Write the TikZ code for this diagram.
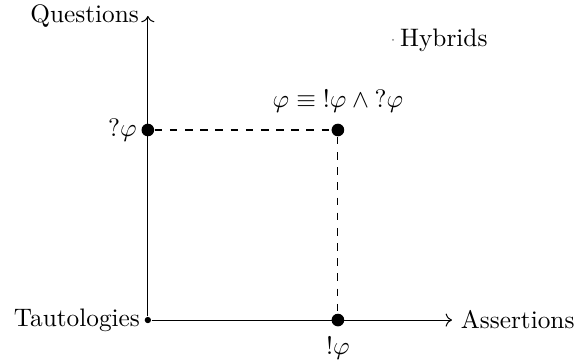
\documentclass[tikz,border=0pt]{standalone}
\usepackage{amsmath,amssymb}
\usetikzlibrary{positioning,arrows.meta}

\begin{document}
\begin{tikzpicture}[x=0.528cm,y=0.528cm,node distance=0cm]
\useasboundingbox (-3.89,-1.03) rectangle (11.29,8.42);
\node[circle,fill,inner sep=0pt,minimum size=2.5pt] (taut) at (0,0) {};
\coordinate (qtip) at (0,8);
\coordinate (atip) at (8,0);
\node[circle,fill,inner sep=0pt,minimum size=5pt] (qdot) at (0,5) {};
\node[circle,fill,inner sep=0pt,minimum size=5pt] (adot) at (5,0) {};
\node[circle,fill,inner sep=0pt,minimum size=5pt] (hdot) at (5,5) {};
\node[circle,fill=gray,inner sep=0pt,minimum size=0.8pt] (hyb) at (6.45,7.37) {};
\draw[->] (taut) -- (qtip);
\draw[->] (taut) -- (atip);
\draw[dashed] (qdot) -- (hdot) -- (adot);
\node[left=of taut,inner sep=1.5pt] {Tautologies};
\node[anchor=east] at (qtip) {Questions};
\node[anchor=west] at (atip) {Assertions};
\node[left=of qdot,inner sep=1.5pt] {$?\varphi$};
\node[below=0.02cm of adot] {$!\varphi$};
\node[above=0.02cm of hdot] {$\varphi \equiv {!}\varphi \wedge {?}\varphi$};
\node[right=of hyb,inner sep=2pt] {Hybrids};
\end{tikzpicture}
\end{document}
